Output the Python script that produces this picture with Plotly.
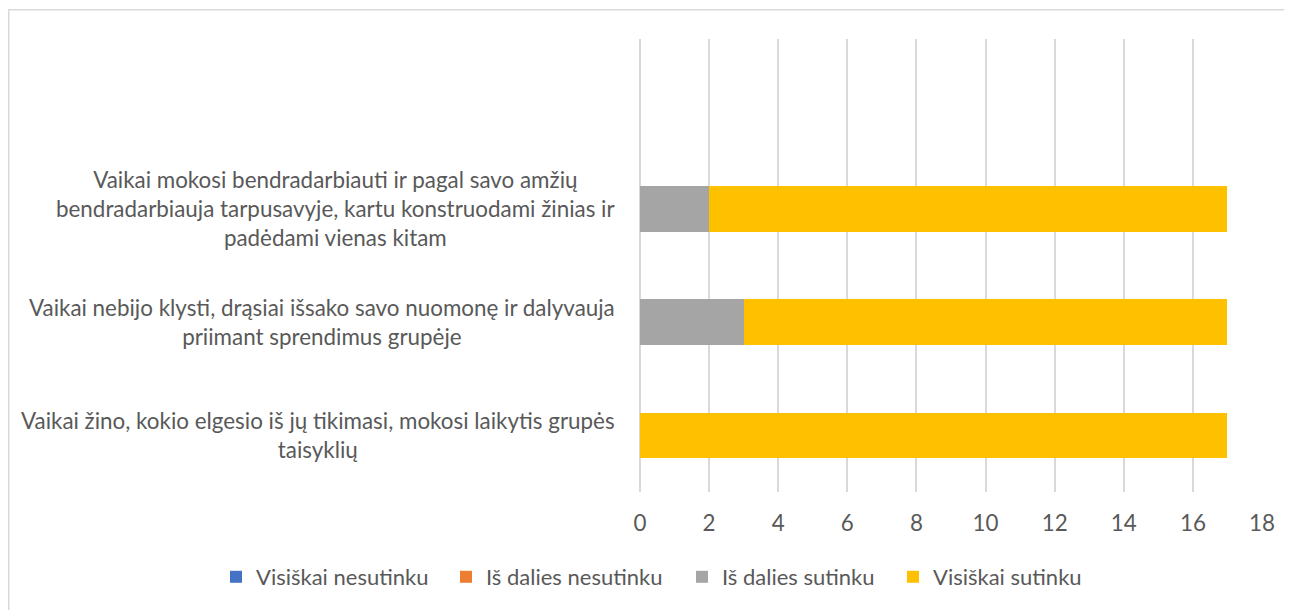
import plotly.graph_objects as go

categories = [
    "Vaikai žino, kokio elgesio iš jų tikimasi, mokosi laikytis grupės<br>taisyklių",
    "Vaikai nebijo klysti, drąsiai išsako savo nuomonę ir dalyvauja<br>priimant sprendimus grupėje",
    "Vaikai mokosi bendradarbiauti ir pagal savo amžių<br>bendradarbiauja tarpusavyje, kartu konstruodami žinias ir<br>padėdami vienas kitam",
]
series_names = ["Visiškai nesutinku", "Iš dalies nesutinku", "Iš dalies sutinku", "Visiškai sutinku"]
visiskai_nesutinku = [0, 0, 0]
is_dalies_nesutinku = [0, 0, 0]
is_dalies_sutinku = [0, 3, 2]
visiskai_sutinku = [17, 14, 15]
colors = ["#4472C4", "#ED7D31", "#A5A5A5", "#FFC000"]
x_ticks = [0, 2, 4, 6, 8, 10, 12, 14, 16, 18]

FONT = "Lato"
TXT = "#595959"
FS = 22.4

# page body has an 8px margin; figure coordinates are screen coordinates minus 8
W, H = 1284, 602
L, T = 632, 31
pw, ph = 622, 453
R, B = W - L - pw, H - T - ph

# left edge (figure px) of each legend entry
legend_left_px = [208, 438, 674, 885]
legend_ids = ["legend", "legend2", "legend3", "legend4"]

fig = go.Figure()
for name, vals, c, lid in zip(series_names,
                              [visiskai_nesutinku, is_dalies_nesutinku, is_dalies_sutinku, visiskai_sutinku],
                              colors, legend_ids):
    fig.add_trace(go.Bar(y=categories, x=vals, name=name, orientation="h", legend=lid,
                         marker=dict(color=c, line=dict(width=0)), width=0.4))

for cat in categories:
    fig.add_annotation(x=(609 - L) / pw, xref="paper", y=cat, yref="y",
                       text=cat, showarrow=False, xanchor="right", align="center",
                       font=dict(family=FONT, size=FS, color=TXT))

# outer chart border
fig.add_shape(type="rect", xref="paper", yref="paper",
              x0=(0.75 - L) / pw, x1=(1400 - L) / pw,
              y0=(T + ph - 700) / ph, y1=(T + ph - 1.75) / ph,
              line=dict(color="#d9d9d9", width=1.5), fillcolor="rgba(0,0,0,0)", layer="below")

legend_style = {}
for lid, lx in zip(legend_ids, legend_left_px):
    legend_style[lid] = dict(orientation="h", x=(lx - L) / pw, xanchor="left",
                             y=(T + ph - 569) / ph, yanchor="middle",
                             font=dict(family=FONT, size=22, color=TXT),
                             itemwidth=30, bgcolor="rgba(0,0,0,0)")

fig.update_layout(
    width=W, height=H,
    barmode="stack",
    plot_bgcolor="white", paper_bgcolor="white",
    margin=dict(l=L, r=R, t=T, b=B),
    font=dict(family=FONT, size=FS, color=TXT),
    xaxis=dict(range=[0, 18], tickvals=x_ticks, showgrid=True, gridcolor="#d9d9d9", gridwidth=1.5,
               zeroline=True, zerolinecolor="#d9d9d9", zerolinewidth=1.5,
               showline=False, ticks="", tickfont=dict(family=FONT, size=FS, color=TXT),
               ticklabelstandoff=16),
    yaxis=dict(type="category", range=[-0.5, 3.5], showticklabels=False, showgrid=False,
               ticks="", showline=False),
    showlegend=True,
    **legend_style,
)

fig.write_html("out.html")
